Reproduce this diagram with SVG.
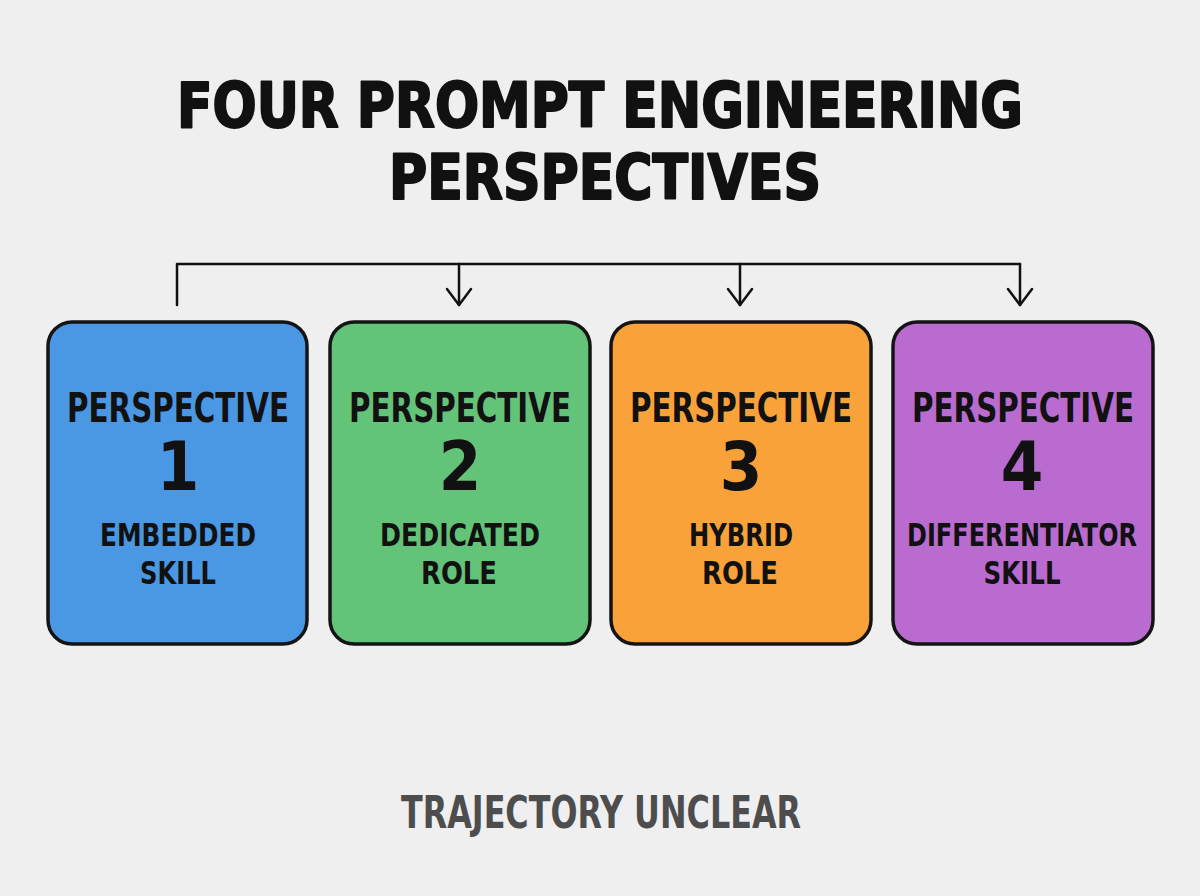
<svg xmlns="http://www.w3.org/2000/svg" width="1200" height="896" viewBox="0 0 1200 896">
<defs>
<marker id="arr" viewBox="0 0 20 28" refX="18" refY="14" markerWidth="20" markerHeight="28" markerUnits="userSpaceOnUse" orient="auto">
<path d="M2,2 L18,14 L2,26" fill="none" stroke="#111" stroke-width="2.5" stroke-linecap="round" stroke-linejoin="round"/>
</marker>
</defs>
<style>
.bg{fill:#efefef}
.card{stroke:#141414;stroke-width:3.5}
.t{font-family:"DejaVu Sans","Liberation Sans",sans-serif;font-weight:bold;font-stretch:condensed;fill:#111;text-anchor:middle}
.title{font-size:62px;stroke:#111;stroke-width:2;stroke-linejoin:round}
.head{font-size:40px}
.num{font-size:68px}
.lab{font-size:32px}
.foot{font-size:44px;fill:#4d4d4d}
.conn{fill:none;stroke:#111;stroke-width:2.5;stroke-linecap:round;stroke-linejoin:round}
</style>
<rect class="bg" x="0" y="0" width="1200" height="896"/>
<g id="title">
<text class="t title" x="600" y="127" textLength="846" lengthAdjust="spacingAndGlyphs">FOUR PROMPT ENGINEERING</text>
<text class="t title" x="605" y="199" textLength="432" lengthAdjust="spacingAndGlyphs">PERSPECTIVES</text>
</g>
<g id="connectors">
<path class="conn" d="M177,305 L177,264 L1020,264"/>
<path class="conn" d="M459,264 L459,305" marker-end="url(#arr)"/>
<path class="conn" d="M740,264 L740,305" marker-end="url(#arr)"/>
<path class="conn" d="M1020,264 L1020,305" marker-end="url(#arr)"/>
</g>
<g id="p1">
<rect class="card" x="48" y="322" width="259" height="322" rx="24" fill="#4a97e3"/>
<text class="t head" x="178" y="422" textLength="222" lengthAdjust="spacingAndGlyphs">PERSPECTIVE</text>
<text class="t num" x="178" y="490">1</text>
<text class="t lab" x="178" y="546" textLength="156" lengthAdjust="spacingAndGlyphs">EMBEDDED</text>
<text class="t lab" x="178" y="584" textLength="76" lengthAdjust="spacingAndGlyphs">SKILL</text>
</g>
<g id="p2">
<rect class="card" x="330" y="322" width="260" height="322" rx="24" fill="#63c379"/>
<text class="t head" x="460" y="422" textLength="222" lengthAdjust="spacingAndGlyphs">PERSPECTIVE</text>
<text class="t num" x="460" y="490">2</text>
<text class="t lab" x="460" y="546" textLength="160" lengthAdjust="spacingAndGlyphs">DEDICATED</text>
<text class="t lab" x="459" y="584" textLength="76" lengthAdjust="spacingAndGlyphs">ROLE</text>
</g>
<g id="p3">
<rect class="card" x="611" y="322" width="260" height="322" rx="24" fill="#f9a239"/>
<text class="t head" x="741" y="422" textLength="222" lengthAdjust="spacingAndGlyphs">PERSPECTIVE</text>
<text class="t num" x="741" y="490">3</text>
<text class="t lab" x="741" y="546" textLength="104" lengthAdjust="spacingAndGlyphs">HYBRID</text>
<text class="t lab" x="740" y="584" textLength="76" lengthAdjust="spacingAndGlyphs">ROLE</text>
</g>
<g id="p4">
<rect class="card" x="893" y="322" width="260" height="322" rx="24" fill="#b96bd0"/>
<text class="t head" x="1023" y="422" textLength="222" lengthAdjust="spacingAndGlyphs">PERSPECTIVE</text>
<text class="t num" x="1022" y="490">4</text>
<text class="t lab" x="1022" y="546" textLength="230" lengthAdjust="spacingAndGlyphs">DIFFERENTIATOR</text>
<text class="t lab" x="1022" y="584" textLength="77" lengthAdjust="spacingAndGlyphs">SKILL</text>
</g>
<g id="footer">
<text class="t foot" x="601" y="828" textLength="400" lengthAdjust="spacingAndGlyphs">TRAJECTORY UNCLEAR</text>
</g>
</svg>
